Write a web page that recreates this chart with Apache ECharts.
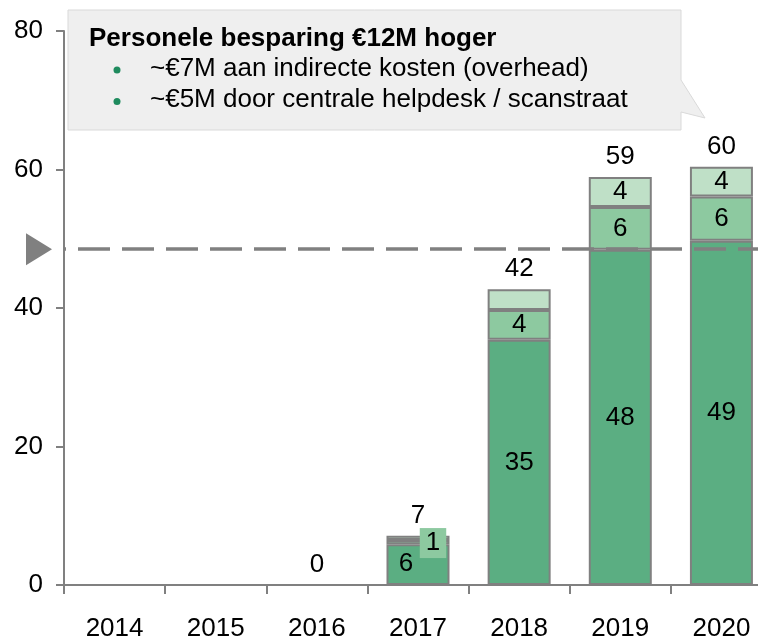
<!DOCTYPE html>
<html>
<head>
<meta charset="utf-8">
<script src="https://cdn.jsdelivr.net/npm/echarts@6/dist/echarts.min.js"></script>
<style>
  html, body { margin: 0; padding: 0; background: #fff; overflow: hidden; }
  #chart { width: 772px; height: 642px; }
</style>
</head>
<body>
<div id="chart"></div>
<script>
const years = ["2014", "2015", "2016", "2017", "2018", "2019", "2020"];
const baseValues = [0, 0, 0, 5.9, 35.4, 48.4, 49.7];
const midValues = [0, 0, 0, 0.6, 4.3, 6.2, 6.4];
const topValues = [0, 0, 0, 0.6, 3.0, 4.3, 4.3];
const baseLabels = ["", "", "", "6", "35", "48", "49"];
const midLabels = ["", "", "", "1", "4", "6", "6"];
const topLabels = ["", "", "", "", "", "4", "4"];
const totalLabels = ["", "", "0", "7", "42", "59", "60"];
const refLine = 48.5;
const yTicks = [0, 20, 40, 60, 80];

const font = '"Liberation Sans", Arial, sans-serif';
const grey = "#808080";

function inside(labels) {
  return {
    show: true,
    position: "inside",
    color: "#000",
    fontSize: 26,
    fontFamily: font,
    formatter: (p) => labels[p.dataIndex],
  };
}

const chart = echarts.init(document.getElementById("chart"));

chart.setOption({
  animation: false,
  grid: { left: 64, right: 0, top: 31, bottom: 51 },
  xAxis: {
    type: "category",
    data: years,
    axisLine: { lineStyle: { color: grey, width: 2 } },
    axisTick: { show: true, length: 9, lineStyle: { color: grey, width: 2 } },
    axisLabel: { color: "#000", fontSize: 26, fontFamily: font, margin: 31 },
  },
  yAxis: {
    type: "value",
    min: yTicks[0],
    max: yTicks[yTicks.length - 1],
    interval: 20,
    splitLine: { show: false },
    axisLine: { show: true, lineStyle: { color: grey, width: 2 } },
    axisTick: { show: true, length: 8, lineStyle: { color: grey, width: 2 } },
    axisLabel: { color: "#000", fontSize: 26, fontFamily: font, margin: 21 },
  },
  series: [
    {
      type: "bar",
      stack: "s",
      data: baseValues,
      barWidth: 63,
      itemStyle: { color: "#5BAE82", borderColor: grey, borderWidth: 2 },
      label: inside(baseLabels),
      labelLayout: (p) => (p.dataIndex === 3 ? { dx: -12, dy: -1 } : {}),
    },
    {
      type: "bar",
      stack: "s",
      data: midValues.map((v, i) =>
        i === 3
          ? {
              value: v,
              label: { backgroundColor: "#8DC9A0", padding: [3, 6, 1, 6], offset: [15, 1] },
            }
          : v
      ),
      barWidth: 63,
      itemStyle: { color: "#8DC9A0", borderColor: grey, borderWidth: 2 },
      label: inside(midLabels),
    },
    {
      type: "bar",
      stack: "s",
      data: topValues,
      barWidth: 63,
      itemStyle: { color: "#BFE0C7", borderColor: grey, borderWidth: 2 },
      label: inside(topLabels),
      markLine: {
        silent: true,
        symbol: "none",
        label: { show: false },
        lineStyle: { color: grey, width: 3.5, type: [32, 12], dashOffset: 30 },
        data: [{ yAxis: refLine }],
      },
    },
    {
      // empty segment on top of each stack, only carries the total label
      type: "bar",
      stack: "s",
      data: years.map(() => 0),
      barWidth: 63,
      silent: true,
      itemStyle: { color: "transparent", borderWidth: 0 },
      label: {
        show: true,
        position: "top",
        distance: 7,
        color: "#000",
        fontSize: 26,
        fontFamily: font,
        formatter: (p) => totalLabels[p.dataIndex],
      },
    },
  ],
});

const yRef = chart.convertToPixel({ yAxisIndex: 0 }, refLine);

chart.setOption({
  graphic: [
    {
      type: "polygon",
      shape: { points: [[26, yRef - 16], [52, yRef], [26, yRef + 16]] },
      style: { fill: grey },
    },
    {
      type: "polygon",
      z: 10,
      shape: {
        points: [[68, 10], [681, 10], [681, 80], [705, 118], [681, 112], [681, 130], [68, 130]],
      },
      style: { fill: "#EFEFEF", stroke: "#D9D9D9", lineWidth: 1 },
    },
    {
      type: "text",
      z: 11,
      x: 89,
      y: 39,
      style: {
        text: "Personele besparing €12M hoger",
        font: 'bold 26px "Liberation Sans", Arial, sans-serif',
        fill: "#000",
        verticalAlign: "middle",
      },
    },
    {
      type: "circle",
      z: 11,
      shape: { cx: 117, cy: 70, r: 3.5 },
      style: { fill: "#1F8B5E" },
    },
    {
      type: "text",
      z: 11,
      x: 150,
      y: 69,
      style: {
        text: "~€7M aan indirecte kosten (overhead)",
        font: '26px "Liberation Sans", Arial, sans-serif',
        fill: "#000",
        verticalAlign: "middle",
      },
    },
    {
      type: "circle",
      z: 11,
      shape: { cx: 117, cy: 101.5, r: 3.5 },
      style: { fill: "#1F8B5E" },
    },
    {
      type: "text",
      z: 11,
      x: 150,
      y: 100,
      style: {
        text: "~€5M door centrale helpdesk / scanstraat",
        font: '26px "Liberation Sans", Arial, sans-serif',
        fill: "#000",
        verticalAlign: "middle",
      },
    },
  ],
});

window.addEventListener("resize", () => chart.resize());
</script>
</body>
</html>
